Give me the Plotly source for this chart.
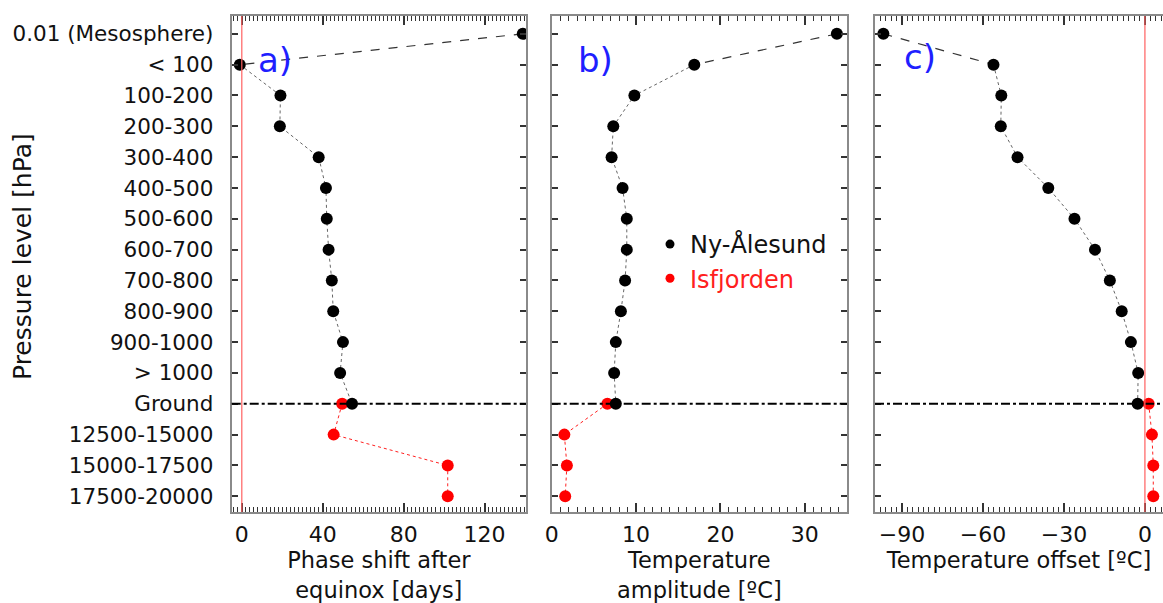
import plotly.graph_objects as go
from plotly.subplots import make_subplots

# ---------------- data ----------------
categories = ["0.01 (Mesosphere)", "< 100", "100-200", "200-300", "300-400", "400-500",
              "500-600", "600-700", "700-800", "800-900", "900-1000", "> 1000", "Ground",
              "12500-15000", "15000-17500", "17500-20000"]
levels_ny = categories[:13]          # Ny-Ålesund: mesosphere ... ground
levels_is = categories[12:]          # Isfjorden: ground ... depths

phase_ny = [138.9, -1.0, 19.1, 18.8, 38.0, 41.6, 42.0, 42.9, 44.5, 45.2, 50.0, 48.6, 54.5]
phase_is = [49.6, 45.4, 101.8, 101.8]
amp_ny = [33.8, 16.9, 9.8, 7.3, 7.1, 8.4, 8.9, 8.9, 8.7, 8.2, 7.6, 7.4, 7.6]
amp_is = [6.6, 1.5, 1.8, 1.6]
off_ny = [-96.9, -56.1, -53.2, -53.4, -47.2, -35.8, -26.1, -18.5, -13.0, -8.6, -5.2, -2.5, -2.7]
off_is = [1.4, 2.6, 3.1, 3.1]

panel_labels = ["a)", "b)", "c)"]
x_titles = ["Phase shift after<br>equinox [days]", "Temperature<br>amplitude [ºC]",
            "Temperature offset [ºC]"]
y_title = "Pressure level [hPa]"
x_ranges = [[-5, 140.5], [0, 35], [-100, 6.7]]
x_dticks = [40, 10, 30]
x_minor = [2, 1, 2]
series_names = ["Ny-Ålesund", "Isfjorden"]

# ---------------- figure ----------------
W, H = 1163, 603
FONT = "DejaVu Sans"
TXT = "#111111"
FRAME = "#8a8a8a"

fig = make_subplots(rows=1, cols=3, horizontal_spacing=0.02)
domains = [[231.7 / W, 526 / W], [551.7 / W, 847 / W], [875 / W, 1.0]]

ny_data = [phase_ny, amp_ny, off_ny]
is_data = [phase_is, amp_is, off_is]

for i in range(3):
    c = i + 1
    xs = ny_data[i]
    fig.add_trace(go.Scatter(x=xs[:2], y=levels_ny[:2], mode="lines",
                             line=dict(color="#333333", width=1.2, dash="dash"),
                             showlegend=False, hoverinfo="skip"), row=1, col=c)
    fig.add_trace(go.Scatter(x=xs[1:], y=levels_ny[1:], mode="lines",
                             line=dict(color="#666666", width=1, dash="dot"),
                             showlegend=False, hoverinfo="skip"), row=1, col=c)
    fig.add_trace(go.Scatter(x=is_data[i], y=levels_is, mode="lines+markers",
                             line=dict(color="#ff2020", width=1, dash="dot"),
                             marker=dict(color="#ff0000", size=12, symbol="circle"),
                             showlegend=False), row=1, col=c)
    fig.add_trace(go.Scatter(x=xs, y=levels_ny, mode="markers",
                             marker=dict(color="black", size=12, symbol="circle"),
                             showlegend=False), row=1, col=c)

fig.add_trace(go.Scatter(x=[None], y=[None], mode="markers",
                         marker=dict(color="black", size=9),
                         name=series_names[0]), row=1, col=2)
fig.add_trace(go.Scatter(x=[None], y=[None], mode="markers",
                         marker=dict(color="#ff0000", size=9),
                         name="<span style='color:#ff2020'>" + series_names[1] + "</span>"),
              row=1, col=2)

ground_idx = categories.index("Ground")
for i in range(3):
    c = i + 1
    fig.add_hline(y=ground_idx, line=dict(color="black", width=2, dash="dashdot"),
                  row=1, col=c)
for c in (1, 3):
    fig.add_vline(x=0, line=dict(color="#ff6060", width=1.2), row=1, col=c)

yrange = [15.51, -0.578]
for i in range(3):
    c = i + 1
    fig.update_xaxes(row=1, col=c, domain=domains[i], range=x_ranges[i],
                     dtick=x_dticks[i], tick0=0, automargin=False,
                     showline=True, linecolor=FRAME, linewidth=2,
                     mirror="allticks", ticks="inside", ticklen=9, tickwidth=1.5,
                     tickcolor="#333333", showgrid=False, zeroline=False,
                     minor=dict(dtick=x_minor[i], tick0=0, ticks="inside", ticklen=5,
                                tickcolor="#333333", tickwidth=1, showgrid=False),
                     tickfont=dict(family=FONT, size=22, color=TXT),
                     ticklabelstandoff=2,
                     title=dict(text=x_titles[i], standoff=6,
                                font=dict(family=FONT, size=22.5, color=TXT)))
    fig.update_yaxes(row=1, col=c, type="category", categoryorder="array",
                     categoryarray=categories, range=yrange, automargin=False,
                     showline=True, linecolor=FRAME, linewidth=2,
                     mirror=("allticks" if i < 2 else False),
                     ticks="inside", ticklen=6, tickwidth=1.5, tickcolor="#333333",
                     showgrid=False, zeroline=False,
                     showticklabels=(i == 0),
                     tickfont=dict(family=FONT, size=21.5, color=TXT),
                     ticklabelstandoff=12)

plot_top, plot_h = 16, 603 - 16 - 91

def py2paper(py):
    return (plot_h + plot_top - py) / plot_h

fig.add_annotation(text=y_title, x=22 / W, y=py2paper(257), xref="paper", yref="paper",
                   showarrow=False, textangle=-90, xanchor="center", yanchor="middle",
                   font=dict(family=FONT, size=25, color=TXT))

label_pos = [(275, 60), (595, 60), (920, 57)]
for lab, (px, py) in zip(panel_labels, label_pos):
    fig.add_annotation(text=lab, x=px / W, y=py2paper(py),
                       xref="paper", yref="paper", showarrow=False,
                       xanchor="center", yanchor="middle",
                       font=dict(family=FONT, size=34, color="#1f1fff"))

fig.update_layout(
    width=W, height=H,
    margin=dict(l=0, r=0, t=plot_top, b=91),
    paper_bgcolor="white", plot_bgcolor="white",
    font=dict(family=FONT, color=TXT),
    showlegend=True,
    legend=dict(x=650 / W, y=py2paper(222),
                xanchor="left", yanchor="top", bgcolor="rgba(0,0,0,0)",
                font=dict(family=FONT, size=24, color=TXT),
                itemwidth=30, tracegroupgap=0),
)

fig.write_html("out.html")
